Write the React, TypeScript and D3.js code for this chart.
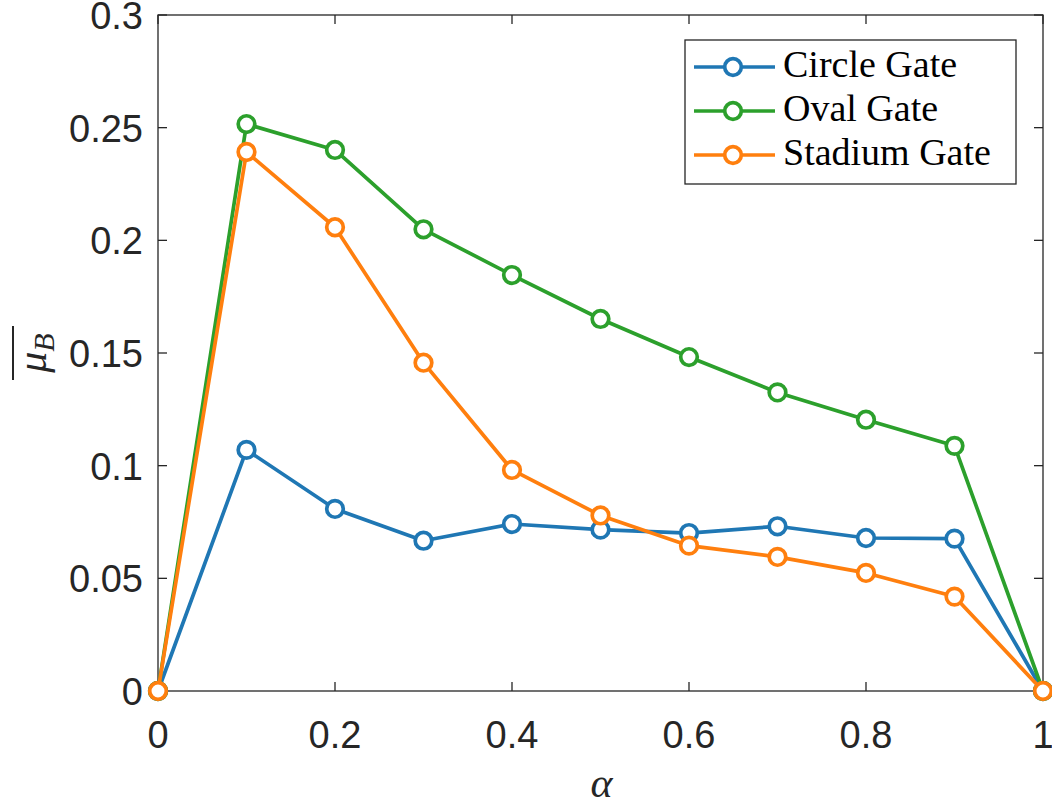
import React from "react";
import * as d3 from "d3";

const alphas = [0, 0.1, 0.2, 0.3, 0.4, 0.5, 0.6, 0.7, 0.8, 0.9, 1];
const circleGate = [0, 0.107, 0.0808, 0.0667, 0.0741, 0.0716, 0.0701, 0.0731, 0.0679, 0.0676, 0];
const ovalGate = [0, 0.2516, 0.2401, 0.2049, 0.1846, 0.1651, 0.1482, 0.1325, 0.1204, 0.1088, 0];
const stadiumGate = [0, 0.2392, 0.2058, 0.1457, 0.0981, 0.0779, 0.0645, 0.0595, 0.0524, 0.0419, 0];
const seriesNames = ["Circle Gate", "Oval Gate", "Stadium Gate"];
const seriesColors = ["#1f77b4", "#2ca02c", "#ff7f0e"];
const xTicks = [0, 0.2, 0.4, 0.6, 0.8, 1];
const yTicks = [0, 0.05, 0.1, 0.15, 0.2, 0.25, 0.3];

const W = 1052, H = 805;
const L = 158, R = 1043, T = 15, B = 691;

export default function App() {
  const x = d3.scaleLinear().domain([0, 1]).range([L, R]);
  const y = d3.scaleLinear().domain([0, 0.3]).range([B, T]);
  const line = d3.line<number>().x((_, i) => x(alphas[i])).y((d) => y(d));
  const data = [circleGate, ovalGate, stadiumGate];
  const tickFont = "Liberation Sans, Arial, sans-serif";
  const serif = "Liberation Serif, Times New Roman, serif";
  const tl = 9;
  const lgX = 685, lgY = 40, lgW = 331, lgH = 144;
  return (
    <svg width={W} height={H} style={{ position: "absolute", left: 0, top: 0, background: "#fff" }}>
      <rect x={0} y={0} width={W} height={H} fill="#fff" />
      {/* ticks */}
      <g stroke="#262626" strokeWidth={1.3}>
        {xTicks.map((t) => (
          <g key={"xt" + t}>
            <line x1={x(t)} x2={x(t)} y1={B} y2={B - tl} />
            <line x1={x(t)} x2={x(t)} y1={T} y2={T + tl} />
          </g>
        ))}
        {yTicks.map((t) => (
          <g key={"yt" + t}>
            <line x1={L} x2={L + tl} y1={y(t)} y2={y(t)} />
            <line x1={R} x2={R - tl} y1={y(t)} y2={y(t)} />
          </g>
        ))}
      </g>
      <rect x={L} y={T} width={R - L} height={B - T} fill="none" stroke="#262626" strokeWidth={1.3} />
      {/* tick labels */}
      <g fill="#262626" fontFamily={tickFont} fontSize={38}>
        {xTicks.map((t) => (
          <text key={"xl" + t} x={x(t)} y={B + 57} textAnchor="middle">
            {d3.format("~g")(t)}
          </text>
        ))}
        {yTicks.map((t) => (
          <text key={"yl" + t} x={L - 15} y={y(t) + 14} textAnchor="end">
            {d3.format("~g")(t)}
          </text>
        ))}
      </g>
      {/* axis labels */}
      <text x={(L + R) / 2 + 1} y={797} textAnchor="middle" fontFamily={serif} fontStyle="italic" fontSize={42} fill="#262626">
        α
      </text>
      <g transform="translate(46,353) rotate(-90)">
        <text x={0} y={0} textAnchor="middle" fontFamily={serif} fontStyle="italic" fontSize={42} fill="#262626">
          μ<tspan fontSize={30} dy={8}>B</tspan>
        </text>
        <line x1={-27} x2={27} y1={-33} y2={-33} stroke="#262626" strokeWidth={2} />
      </g>
      {/* series */}
      {data.map((s, k) => (
        <g key={"s" + k}>
          <path d={line(s) || ""} fill="none" stroke={seriesColors[k]} strokeWidth={3.7} strokeLinejoin="round" />
          {s.map((v, i) => (
            <circle key={i} cx={x(alphas[i])} cy={y(v)} r={8.3} fill="#fff" stroke={seriesColors[k]} strokeWidth={3.7} />
          ))}
        </g>
      ))}
      {/* legend */}
      <rect x={lgX} y={lgY} width={lgW} height={lgH} fill="#fff" stroke="#262626" strokeWidth={1.3} />
      {seriesNames.map((n, k) => {
        const cy = 67 + k * 44;
        return (
          <g key={"lg" + k}>
            <line x1={694} x2={775} y1={cy} y2={cy} stroke={seriesColors[k]} strokeWidth={3.7} />
            <circle cx={733} cy={cy} r={8.3} fill="#fff" stroke={seriesColors[k]} strokeWidth={3.7} />
            <text x={783} y={cy + 10} fontFamily={serif} fontSize={38} fill="#000">
              {n}
            </text>
          </g>
        );
      })}
    </svg>
  );
}
